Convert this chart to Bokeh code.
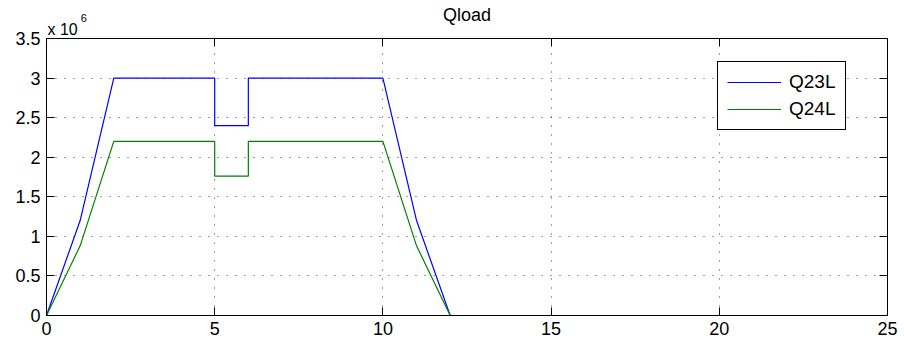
from bokeh.plotting import figure
from bokeh.models import Range1d, FixedTicker, LinearAxis, Legend, LegendItem
from bokeh.embed import file_html
from bokeh.resources import INLINE

# ---- data (y in units of 1e6) ----
chart_title = "Qload"
t = [0, 1, 2, 5, 5, 6, 6, 10, 11, 12, 24]
q23l = [0, 1.2, 3.0, 3.0, 2.4, 2.4, 3.0, 3.0, 1.2, 0, 0]
q24l = [0, 0.88, 2.2, 2.2, 1.76, 1.76, 2.2, 2.2, 0.88, 0, 0]
series_names = ["Q23L", "Q24L"]
series_colors = ["#0000FF", "#008000"]
x_ticks = [0, 5, 10, 15, 20, 25]
x_tick_labels = ["0", "5", "10", "15", "20", "25"]
y_ticks = [0, 0.5, 1, 1.5, 2, 2.5, 3, 3.5]
y_tick_labels = ["0", "0.5", "1", "1.5", "2", "2.5", "3", "3.5"]
y_multiplier_base = "x 10"
y_multiplier_exp = "6"

FONT = "Liberation Sans"

p = figure(frame_width=841, frame_height=277,
           x_range=Range1d(0, 25), y_range=Range1d(0, 3.5),
           output_backend="svg", toolbar_location=None,
           min_border_left=46, min_border_right=17,
           min_border_top=38, min_border_bottom=35,
           background_fill_color="white", border_fill_color="white")
p.outline_line_color = "black"
p.title.visible = False

def style_axis(ax, ticks, labels, show_labels):
    ax.ticker = FixedTicker(ticks=ticks)
    ax.axis_line_color = "black"
    ax.major_tick_in = 8
    ax.major_tick_out = 0
    ax.major_tick_line_color = "black"
    ax.minor_tick_line_color = None
    if show_labels:
        ax.major_label_overrides = {tk: lb for tk, lb in zip(ticks, labels)}
        ax.major_label_text_font = FONT
        ax.major_label_text_font_size = "18px"
        ax.major_label_text_color = "black"
        ax.major_label_standoff = 6
    else:
        ax.major_label_overrides = {tk: "" for tk in ticks}
        ax.major_label_text_font_size = "0px"
        ax.major_label_standoff = 0

style_axis(p.xaxis[0], x_ticks, x_tick_labels, True)
style_axis(p.yaxis[0], y_ticks, y_tick_labels, True)
top_ax = LinearAxis()
style_axis(top_ax, x_ticks, x_tick_labels, False)
p.add_layout(top_ax, "above")
right_ax = LinearAxis()
style_axis(right_ax, y_ticks, y_tick_labels, False)
p.add_layout(right_ax, "right")

# header texts (exponent and title) as labels of tick-less axes above the frame
def header_axis(ticks, labels, size, standoff):
    ax = LinearAxis(ticker=FixedTicker(ticks=ticks),
                    major_label_overrides=dict(zip(ticks, labels)))
    ax.axis_line_color = None
    ax.major_tick_line_color = None
    ax.minor_tick_line_color = None
    ax.major_tick_in = 0
    ax.major_tick_out = 0
    ax.major_label_standoff = standoff
    ax.major_label_text_font = FONT
    ax.major_label_text_font_size = size
    ax.major_label_text_color = "black"
    return ax

x_mid = (p.x_range.start + p.x_range.end) / 2
p.add_layout(header_axis([0.48], [y_multiplier_base], "16px", 1), "above")
p.add_layout(header_axis([x_mid], [chart_title], "18px", -7), "above")
p.add_layout(header_axis([1.11], [y_multiplier_exp], "11px", -20), "above")

p.xgrid[0].ticker = FixedTicker(ticks=x_ticks)
p.ygrid[0].ticker = FixedTicker(ticks=y_ticks)
for g in (p.xgrid[0], p.ygrid[0]):
    g.grid_line_color = "black"
    g.grid_line_alpha = 0.75
    g.grid_line_dash = "1 8"

p.line(t, q23l, line_color=series_colors[0], line_width=1.2)
p.line(t, q24l, line_color=series_colors[1], line_width=1.2)

# legend keys (segment glyphs render their legend colours correctly in SVG)
k1 = p.segment(x0=t, y0=q23l, x1=t, y1=q23l, line_color=series_colors[0], line_width=1.2)
k2 = p.segment(x0=t, y0=q24l, x1=t, y1=q24l, line_color=series_colors[1], line_width=1.2)

legend = Legend(items=[LegendItem(label=series_names[0], renderers=[k1]),
                       LegendItem(label=series_names[1], renderers=[k2])])
legend.location = (671, 185)
legend.border_line_color = "black"
legend.border_line_alpha = 1
legend.border_line_width = 1.5
legend.background_fill_color = "white"
legend.background_fill_alpha = 1
legend.padding = 9
legend.margin = 0
legend.glyph_width = 54
legend.glyph_height = 22
legend.label_standoff = 8
legend.label_height = 22
legend.label_width = 47
legend.spacing = 5
legend.label_text_font = FONT
legend.label_text_font_size = "19px"
legend.label_text_color = "black"
p.add_layout(legend, "center")

open("out.html", "w").write(file_html(p, INLINE))
